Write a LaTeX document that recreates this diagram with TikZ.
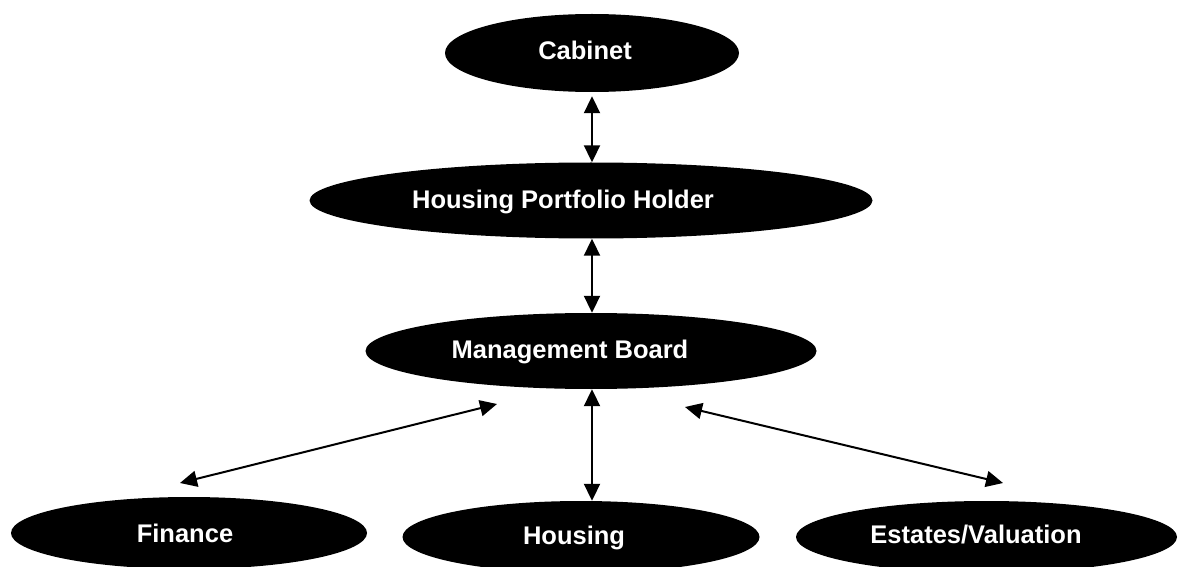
\documentclass[tikz,border=0pt]{standalone}
\usepackage{fontspec}
\setmainfont{Liberation Sans}
\usetikzlibrary{shapes.geometric,arrows.meta}

\tikzset{
  unit/.style={draw=none, fill=black, ellipse, inner sep=0pt},
  caption/.style={text=white, font=\fontsize{25.5}{30}\selectfont\bfseries, anchor=base, inner sep=0pt},
  link/.style={line width=2pt, {Triangle[length=17pt,width=16pt]}-{Triangle[length=17pt,width=16pt]}}
}

\begin{document}
\begin{tikzpicture}[x=1pt, y=-1pt]
  \useasboundingbox (0,0) rectangle (1179,567);

  % ellipses of the hierarchy
  \node[unit, minimum width=294pt, minimum height=78pt] (cab) at (592,53) {};
  \node[unit, minimum width=563pt, minimum height=76pt] (hph) at (591,200.5) {};
  \node[unit, minimum width=451pt, minimum height=76pt] (mb)  at (591,351) {};
  \node[unit, minimum width=356pt, minimum height=72pt] (fin) at (189,533) {};
  \node[unit, minimum width=357pt, minimum height=72pt] (hou) at (581,537) {};
  \node[unit, minimum width=381pt, minimum height=72pt] (est) at (986.5,537) {};

  % labels
  \node[caption] (cabT) at (585,60)  {Cabinet};
  \node[caption] (hphT) at (563,208) {Housing Portfolio Holder};
  \node[caption] (mbT)  at (570,358) {Management Board};
  \node[caption] (finT) at (185,542) {Finance};
  \node[caption] (houT) at (574,544) {Housing};
  \node[caption] (estT) at (976,543) {Estates/Valuation};

  % free ends of the slanted links
  \coordinate (finL) at (497,404);
  \coordinate (finR) at (180,483);
  \coordinate (estL) at (685,407);
  \coordinate (estR) at (1003,483);

  % links
  \draw[link, shorten <=4pt] (cab.south) -- (cab.south |- hph.north);
  \draw[link] (hph.south -| cab.south) -- (mb.north -| cab.south);
  \draw[link] (mb.south -| cab.south) -- (cab.south |- hou.north);
  \draw[link] (finL) -- (finR);
  \draw[link] (estL) -- (estR);
\end{tikzpicture}
\end{document}
